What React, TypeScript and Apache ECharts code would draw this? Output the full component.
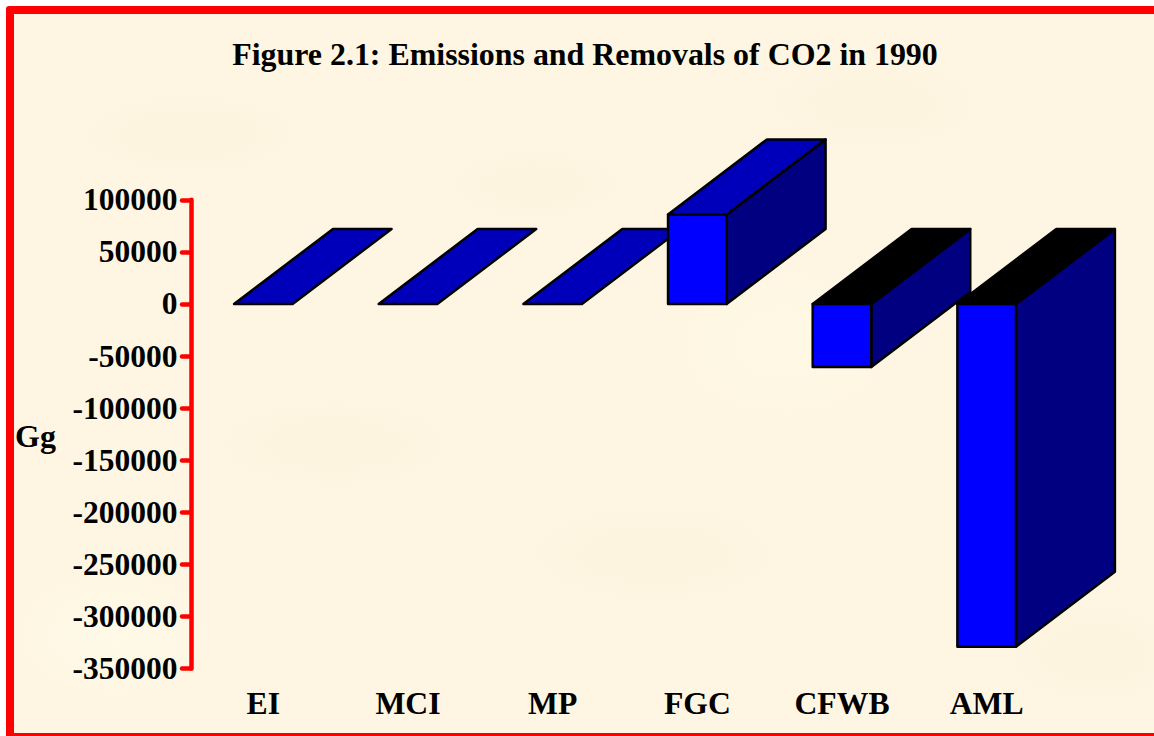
import React, { useEffect, useRef } from "react";
import * as echarts from "echarts";

const titleText = "Figure 2.1: Emissions and Removals of CO2 in 1990";
const unitLabel = "Gg";
const categories = ["EI", "MCI", "MP", "FGC", "CFWB", "AML"];
const values = [0, 0, 0, 86000, -60500, -329000];

const FONT = '"Liberation Serif", "Times New Roman", serif';
const FRONT = "#0000FF";
const SIDE = "#000080";
const TOP_POS = "#0000BB";
const TOP_NEG = "#000000";
const BLOTCHES = [
  "radial-gradient(ellipse 110px 40px at 175px 120px, rgba(250,238,214,.4), transparent)",
  "radial-gradient(ellipse 90px 35px at 520px 170px, rgba(250,238,214,.35), transparent)",
  "radial-gradient(ellipse 110px 45px at 860px 90px, rgba(250,238,214,.35), transparent)",
  "radial-gradient(ellipse 120px 45px at 320px 430px, rgba(250,238,214,.35), transparent)",
  "radial-gradient(ellipse 130px 50px at 640px 540px, rgba(250,238,214,.35), transparent)",
  "radial-gradient(ellipse 90px 50px at 1080px 640px, rgba(250,238,214,.35), transparent)",
  "radial-gradient(ellipse 110px 70px at 100px 620px, rgba(255,252,236,.6), transparent)",
  "radial-gradient(ellipse 130px 90px at 770px 330px, rgba(255,250,232,.6), transparent)",
];

export default function App() {
  const ref = useRef<HTMLDivElement>(null);
  useEffect(() => {
    const chart = echarts.init(ref.current!, null, { renderer: "svg" });
    chart.setOption({
      animation: false,
      backgroundColor: "transparent",
      title: {
        text: titleText,
        left: 580,
        top: 33,
        textAlign: "center",
        textStyle: { fontFamily: FONT, fontWeight: "bold", fontSize: 31.9, color: "#000" },
      },
      grid: { left: 191, top: 199.8, width: 868, height: 468.8, containLabel: false },
      xAxis: {
        type: "category",
        data: categories,
        position: "bottom",
        axisLine: { show: false, onZero: false },
        axisTick: { show: false },
        splitLine: { show: false },
        axisLabel: {
          interval: 0,
          margin: 19,
          color: "#000",
          fontFamily: FONT,
          fontWeight: "bold",
          fontSize: 31.7,
        },
      },
      yAxis: {
        type: "value",
        min: -350000,
        max: 100000,
        interval: 50000,
        splitLine: { show: false },
        axisLine: { show: true, lineStyle: { color: "#FF0000", width: 4.5, cap: "round" } },
        axisTick: { show: true, length: 9, lineStyle: { color: "#FF0000", width: 4.5, cap: "round" } },
        axisLabel: {
          margin: 13.5,
          color: "#000",
          fontFamily: FONT,
          fontWeight: "bold",
          fontSize: 31.5,
          showMinLabel: true,
          showMaxLabel: true,
          formatter: (v: number) => String(v),
        },
      },
      graphic: [
        {
          type: "text",
          left: 15,
          top: 420,
          style: { text: unitLabel, fontFamily: FONT, fontWeight: "bold", fontSize: 32, fill: "#000" },
        },
      ],
      series: [
        {
          type: "custom",
          clip: false,
          data: values.map((v, i) => [i, v]),
          encode: { x: 0, y: 1 },
          renderItem: (_params: any, api: any) => {
            const i = api.value(0);
            const v = api.value(1);
            const [cx, yv] = api.coord([i, v]);
            const [, y0] = api.coord([i, 0]);
            const band = api.size([1, 0])[0];
            const w = band * 0.405;
            const dx = band * 0.684;
            const dy = -75;
            const x0 = cx - w / 2;
            const x1 = cx + w / 2;
            const yT = Math.min(y0, yv);
            const yB = Math.max(y0, yv);
            const stroke = { stroke: "#000", lineWidth: 2.5, lineJoin: "round" };
            const children: any[] = [];
            if (yB - yT > 0.5) {
              children.push({
                type: "polygon",
                shape: { points: [[x1, yT], [x1 + dx, yT + dy], [x1 + dx, yB + dy], [x1, yB]] },
                style: { fill: SIDE, ...stroke },
              });
            }
            children.push({
              type: "polygon",
              shape: { points: [[x0, yT], [x0 + dx, yT + dy], [x1 + dx, yT + dy], [x1, yT]] },
              style: { fill: v < 0 ? TOP_NEG : TOP_POS, ...stroke },
            });
            if (yB - yT > 0.5) {
              children.push({
                type: "rect",
                shape: { x: x0, y: yT, width: w, height: yB - yT },
                style: { fill: FRONT, ...stroke },
              });
            }
            return { type: "group", children };
          },
        },
      ],
    });
    return () => chart.dispose();
  }, []);

  return (
    <div style={{ position: "fixed", left: 0, top: 0, width: 1154, height: 736, overflow: "hidden", background: "#fff" }}>
      <div
        style={{
          position: "absolute",
          left: 6,
          top: 6,
          width: 1170,
          height: 719,
          border: "8px solid #FF0000",
          borderRadius: 3,
          backgroundColor: "#FEF6E2",
          backgroundImage: BLOTCHES.join(","),
        }}
      />
      <div ref={ref} style={{ position: "absolute", left: 0, top: 0, width: 1154, height: 736 }} />
    </div>
  );
}
